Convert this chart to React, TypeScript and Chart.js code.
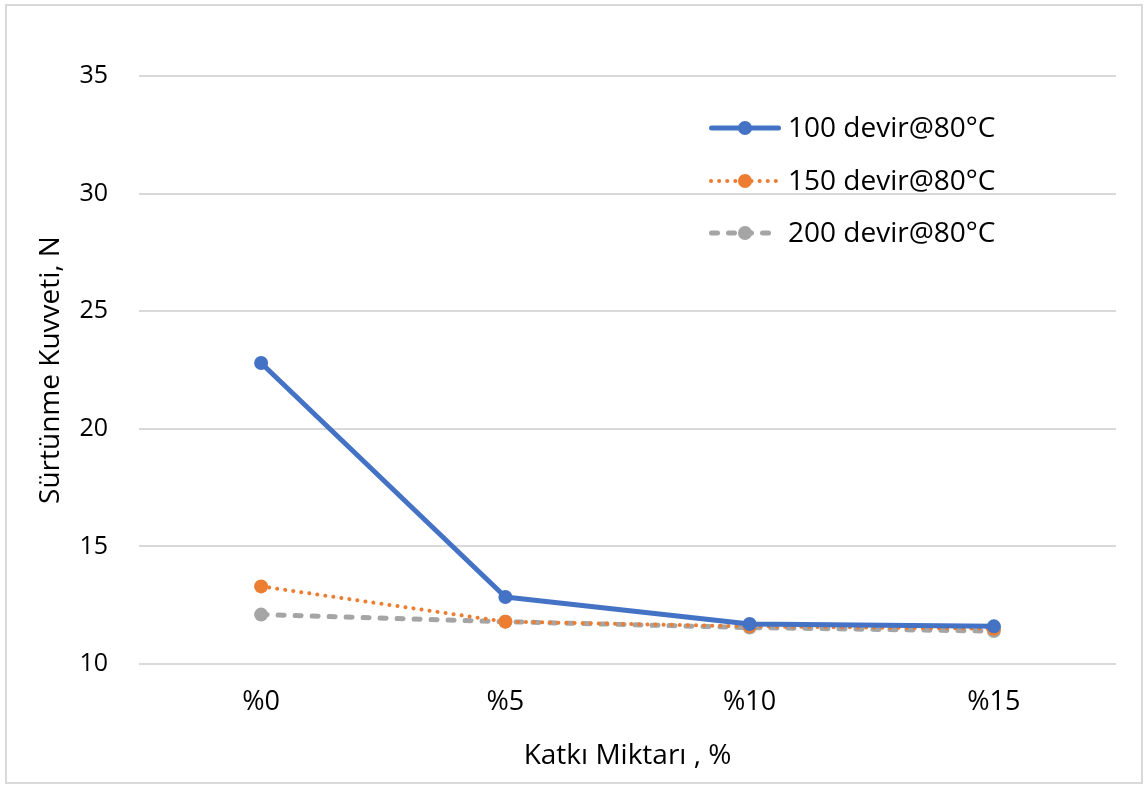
import React, { useEffect, useRef } from "react";
import { Chart, registerables } from "chart.js";

Chart.register(...registerables);

const categories = ["%0", "%5", "%10", "%15"];
const seriesNames = ["100 devir@80°C", "150 devir@80°C", "200 devir@80°C"];
const rpm100 = [22.8, 12.85, 11.7, 11.6];
const rpm150 = [13.3, 11.8, 11.6, 11.5];
const rpm200 = [12.1, 11.8, 11.55, 11.4];
const yMin = 10;
const yMax = 35;
const yStep = 5;
const xTitle = "Katkı Miktarı , %";
const yTitle = "Sürtünme Kuvveti, N";

const FONT = "'Open Sans', 'Noto Sans', sans-serif";

// Legend drawn inside the plot area, one row per series
const insideLegend = {
  id: "insideLegend",
  afterDraw(chart: any) {
    const ctx = chart.ctx;
    const x0 = 709;
    const x1 = 781;
    const rows = [128, 181, 233];
    chart.data.datasets.forEach((ds: any, i: number) => {
      const y = rows[i];
      ctx.save();
      ctx.strokeStyle = ds.borderColor;
      ctx.lineWidth = ds.borderWidth;
      ctx.lineCap = ds.borderCapStyle || "butt";
      ctx.setLineDash(ds.borderDash || []);
      ctx.beginPath();
      ctx.moveTo(x0 + ds.borderWidth / 2, y);
      ctx.lineTo(x1 - ds.borderWidth / 2, y);
      ctx.stroke();
      ctx.setLineDash([]);
      ctx.fillStyle = ds.pointBackgroundColor;
      ctx.beginPath();
      ctx.arc((x0 + x1) / 2, y, ds.pointRadius, 0, Math.PI * 2);
      ctx.fill();
      ctx.fillStyle = "#000000";
      ctx.font = `28px ${FONT}`;
      ctx.textBaseline = "middle";
      ctx.textAlign = "left";
      ctx.fillText(ds.label, 788, y + 1);
      ctx.restore();
    });
  },
};

export default function App() {
  const canvasRef = useRef<HTMLCanvasElement | null>(null);

  useEffect(() => {
    const canvas = canvasRef.current;
    if (!canvas) return;
    const chart = new Chart(canvas, {
      type: "line",
      data: {
        labels: categories,
        datasets: [
          {
            label: seriesNames[0],
            data: rpm100,
            borderColor: "#4472C4",
            backgroundColor: "#4472C4",
            pointBackgroundColor: "#4472C4",
            pointBorderColor: "#4472C4",
            borderWidth: 5,
            pointRadius: 7,
            pointBorderWidth: 0,
            borderCapStyle: "round",
            borderJoinStyle: "round",
          },
          {
            label: seriesNames[1],
            data: rpm150,
            borderColor: "#ED7D31",
            backgroundColor: "#ED7D31",
            pointBackgroundColor: "#ED7D31",
            pointBorderColor: "#ED7D31",
            borderWidth: 4,
            borderDash: [0.1, 8],
            borderCapStyle: "round",
            pointRadius: 7,
            pointBorderWidth: 0,
          },
          {
            label: seriesNames[2],
            data: rpm200,
            borderColor: "#A5A5A5",
            backgroundColor: "#A5A5A5",
            pointBackgroundColor: "#A5A5A5",
            pointBorderColor: "#A5A5A5",
            borderWidth: 5,
            borderDash: [6, 11],
            borderCapStyle: "round",
            pointRadius: 7,
            pointBorderWidth: 0,
          },
        ] as any,
      },
      options: {
        responsive: false,
        animation: false,
        layout: { padding: { top: 76, right: 29, left: 0, bottom: 0 } },
        plugins: {
          legend: { display: false },
          tooltip: { enabled: false },
        },
        scales: {
          x: {
            offset: true,
            grid: { display: false, drawTicks: false },
            border: { display: false },
            ticks: {
              color: "#000000",
              font: { family: FONT, size: 27 },
              padding: 22,
            },
            title: {
              display: true,
              text: xTitle,
              color: "#000000",
              font: { family: FONT, size: 28 },
              padding: { top: 0, bottom: 14 },
            },
            afterFit(scale: any) {
              scale.height = 123;
            },
          },
          y: {
            min: yMin,
            max: yMax,
            grid: { color: "#D9D9D9", lineWidth: 2, drawTicks: false },
            border: { display: false },
            ticks: {
              stepSize: yStep,
              color: "#000000",
              font: { family: FONT, size: 25 },
              padding: 31,
            },
            title: {
              display: true,
              text: yTitle,
              color: "#000000",
              font: { family: FONT, size: 28 },
              padding: { top: 34, bottom: 0 },
            },
            afterFit(scale: any) {
              scale.width = 139;
            },
          },
        },
      },
      plugins: [insideLegend],
    });
    return () => chart.destroy();
  }, []);

  return (
    <div
      style={{
        position: "fixed",
        left: 0,
        top: 0,
        width: 1145,
        height: 787,
        background: "#ffffff",
      }}
    >
      <div
        style={{
          position: "absolute",
          left: 5,
          top: 4,
          width: 1134,
          height: 776,
          border: "2px solid #D9D9D9",
        }}
      />
      <canvas
        ref={canvasRef}
        width={1145}
        height={787}
        style={{ position: "absolute", left: 0, top: 0 }}
      />
    </div>
  );
}
